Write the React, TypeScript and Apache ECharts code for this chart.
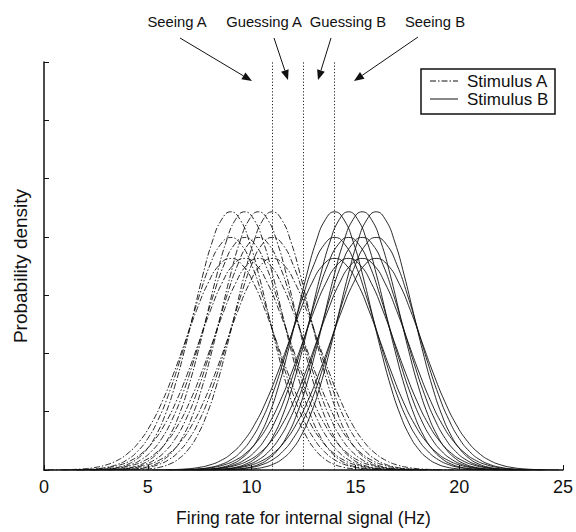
import React, { useEffect, useRef } from "react";
import * as echarts from "echarts";

// ---- data ----
const stimulusAMeans = [9, 9.67, 10.33, 11];
const stimulusBMeans = [14, 14.67, 15.33, 16];
const curveSigmas = [1.8, 2.0, 2.2];
const peakHeights = [4.43, 3.99, 3.63];
// shared bell-shaped profile: offsets (in sigma units) and relative height
const profileZ = [
  -4, -3.75, -3.5, -3.25, -3, -2.75, -2.5, -2.25, -2, -1.75, -1.5, -1.25, -1, -0.75, -0.5, -0.25, 0,
  0.25, 0.5, 0.75, 1, 1.25, 1.5, 1.75, 2, 2.25, 2.5, 2.75, 3, 3.25, 3.5, 3.75, 4,
];
const profileShape = [
  0.0003, 0.0009, 0.0022, 0.0051, 0.0111, 0.0228, 0.0439, 0.0796, 0.1353, 0.2163, 0.3247, 0.4578,
  0.6065, 0.7548, 0.8825, 0.9692, 1, 0.9692, 0.8825, 0.7548, 0.6065, 0.4578, 0.3247, 0.2163,
  0.1353, 0.0796, 0.0439, 0.0228, 0.0111, 0.0051, 0.0022, 0.0009, 0.0003,
];
const criteria = [11, 12.5, 14];
const annotationLabels = ["Seeing A", "Guessing A", "Guessing B", "Seeing B"];
const seriesNames = ["Stimulus A", "Stimulus B"];

const FONT = "'Liberation Sans', Arial, Helvetica, sans-serif";
const DASH_DOT = [6, 2, 1.5, 2];

// annotation layout (pixels): label centre and arrow from/to
const annotationLayout = [
  { tx: 177, ty: 22, a: [180, 38, 252, 81] },
  { tx: 264, ty: 22, a: [274, 38, 288, 80] },
  { tx: 348, ty: 22, a: [331, 38, 318, 80] },
  { tx: 435, ty: 22, a: [418, 37, 354, 81] },
];

function arrowGraphics(a: number[]) {
  const [x1, y1, x2, y2] = a;
  const dx = x2 - x1;
  const dy = y2 - y1;
  const len = Math.sqrt(dx * dx + dy * dy);
  const ux = dx / len;
  const uy = dy / len;
  const hl = 10;
  const hw = 4;
  const bx = x2 - ux * hl;
  const by = y2 - uy * hl;
  return [
    {
      type: "line",
      shape: { x1, y1, x2: bx, y2: by },
      style: { stroke: "#111", lineWidth: 1 },
    },
    {
      type: "polygon",
      shape: {
        points: [
          [x2, y2],
          [bx - uy * hw, by + ux * hw],
          [bx + uy * hw, by - ux * hw],
        ],
      },
      style: { fill: "#111" },
    },
  ];
}

export default function App() {
  const ref = useRef<HTMLDivElement>(null);
  useEffect(() => {
    const chart = echarts.init(ref.current!, null, { renderer: "svg" });
    const series: any[] = [];
    const groups = [stimulusAMeans, stimulusBMeans];
    groups.forEach((means, gi) => {
      curveSigmas.forEach((sigma, li) => {
        means.forEach((m) => {
          series.push({
            type: "line",
            name: seriesNames[gi],
            showSymbol: false,
            symbol: "none",
            smooth: true,
            silent: true,
            lineStyle: {
              color: "#111",
              width: 0.9,
              type: gi === 0 ? DASH_DOT : "solid",
            },
            data: profileZ.map((z, i) => [m + z * sigma, peakHeights[li] * profileShape[i]]),
          });
        });
      });
    });
    series.push({
      type: "line",
      data: [],
      silent: true,
      markLine: {
        silent: true,
        symbol: "none",
        label: { show: false },
        lineStyle: { color: "#222", width: 1, type: [1.2, 2] },
        data: criteria.map((c) => [{ coord: [c, 0] }, { coord: [c, 7] }]),
      },
    });

    const graphic: any[] = [];
    annotationLayout.forEach((l, i) => {
      graphic.push({
        type: "text",
        x: l.tx,
        y: l.ty,
        style: {
          text: annotationLabels[i],
          fill: "#111",
          font: `14.8px ${FONT}`,
          align: "center",
          verticalAlign: "middle",
        },
      });
      graphic.push(...arrowGraphics(l.a));
    });

    // legend box
    graphic.push({
      type: "rect",
      shape: { x: 421, y: 69, width: 134, height: 45 },
      style: { fill: "#fff", stroke: "#111", lineWidth: 1.5 },
      z: 10,
    });
    seriesNames.forEach((n, i) => {
      const y = 81 + i * 18;
      graphic.push({
        type: "line",
        shape: { x1: 430, y1: y, x2: 458, y2: y },
        style: { stroke: "#111", lineWidth: 1, lineDash: i === 0 ? DASH_DOT : null },
        z: 11,
      });
      graphic.push({
        type: "text",
        x: 467,
        y,
        style: {
          text: n,
          fill: "#111",
          font: `17px ${FONT}`,
          verticalAlign: "middle",
        },
        z: 11,
      });
    });

    chart.setOption({
      animation: false,
      backgroundColor: "#fff",
      grid: { left: 44, right: 13, top: 62, bottom: 58 },
      xAxis: {
        type: "value",
        min: 0,
        max: 25,
        interval: 5,
        name: "Firing rate for internal signal (Hz)",
        nameLocation: "middle",
        nameGap: 39,
        nameTextStyle: { fontSize: 17.5, color: "#111", fontFamily: FONT },
        axisLine: { lineStyle: { color: "#111", width: 1.5 } },
        axisTick: { inside: true, length: 5, lineStyle: { color: "#111" } },
        axisLabel: { fontSize: 18, color: "#111", fontFamily: FONT, margin: 8 },
        splitLine: { show: false },
      },
      yAxis: {
        type: "value",
        min: 0,
        max: 7,
        interval: 1,
        name: "Probability density",
        nameLocation: "middle",
        nameGap: 14,
        nameTextStyle: { fontSize: 19, color: "#111", fontFamily: FONT },
        axisLine: { show: true, lineStyle: { color: "#111", width: 1.5 } },
        axisTick: { show: true, inside: true, length: 5, lineStyle: { color: "#111" } },
        axisLabel: { show: false },
        splitLine: { show: false },
      },
      graphic,
      series,
    });
    return () => chart.dispose();
  }, []);
  return (
    <div
      ref={ref}
      style={{ position: "absolute", left: 0, top: 0, width: 576, height: 532, background: "#fff" }}
    />
  );
}
